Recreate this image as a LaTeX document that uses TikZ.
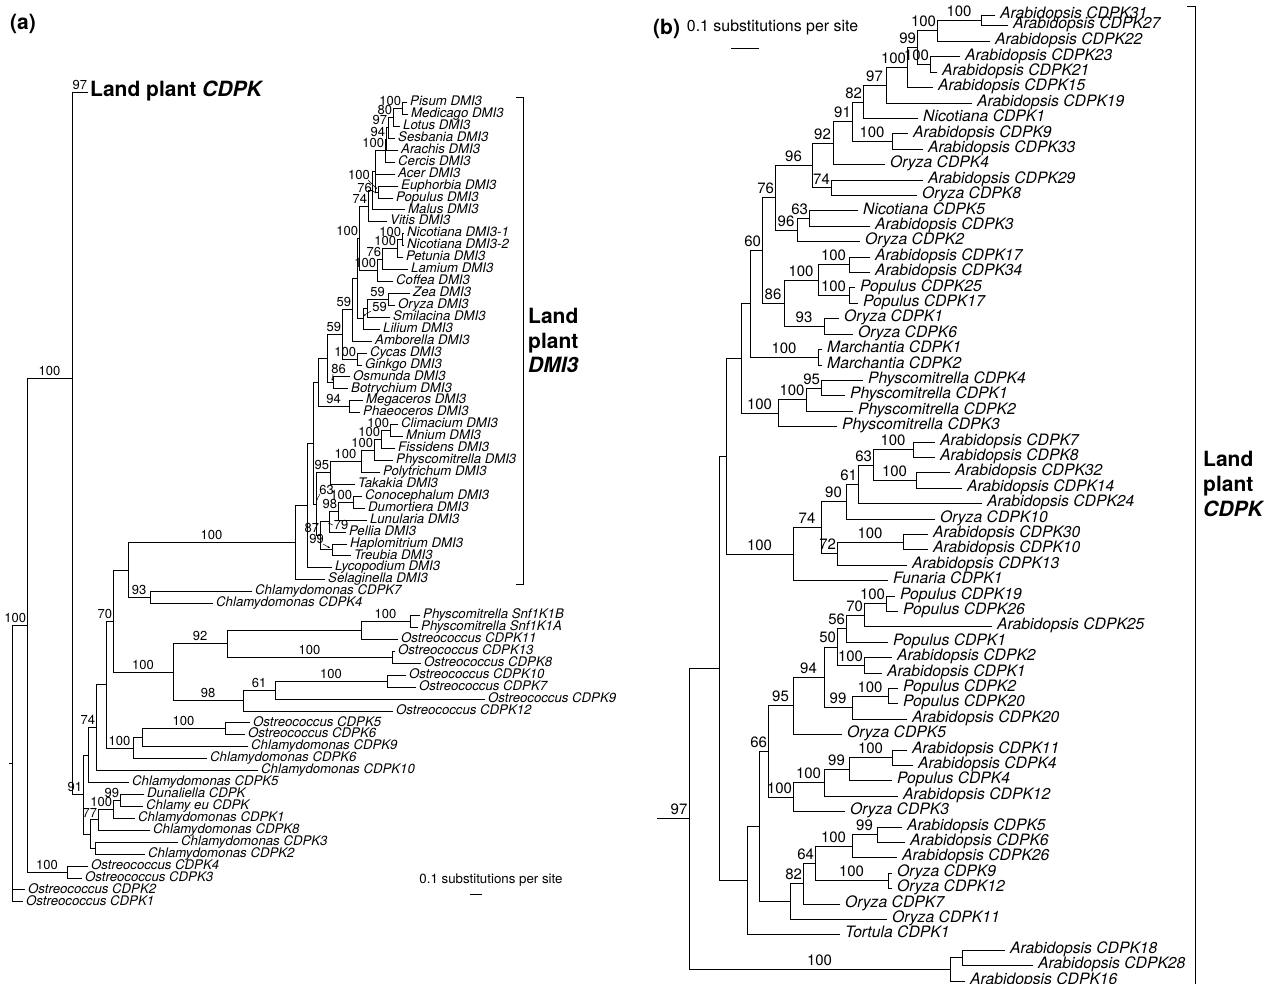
\documentclass[tikz,border=0pt]{standalone}
\usepackage{fontspec}
\setmainfont{TeX Gyre Heros}
\usetikzlibrary{calc,arrows.meta}
\tikzset{
  br/.style={line width=0.8pt, line cap=rect},
  leafr/.style={anchor=base west, inner sep=0pt, xshift=5pt, yshift=-3.2pt, font=\fontsize{15.7}{16}\selectfont\itshape},
  leafl/.style={anchor=base west, inner sep=0pt, xshift=3pt, yshift=-3.2pt, font=\fontsize{13.2}{14}\selectfont\itshape},
  bsr/.style={anchor=south, inner sep=0pt, yshift=3.5pt, font=\fontsize{15}{15}\selectfont},
  bsl/.style={anchor=south, inner sep=0pt, yshift=2.5pt, font=\fontsize{13}{13}\selectfont},
  bsfree/.style={anchor=center, inner sep=0pt, font=\fontsize{13}{13}\selectfont},
  bigt/.style={anchor=base west, inner sep=0pt, font=\fontsize{21}{24}\selectfont\bfseries},
  scl/.style={anchor=center, inner sep=0pt},
  arr/.style={line width=0.5pt, -{Stealth[length=2.5pt,width=2pt]}}
}
\newcommand\leafR[4]{\coordinate (#1) at (#3,{41.5+15.4*(#2-3)});\node[leafr] at (#1) {#4};}
\newcommand\leafRy[4]{\coordinate (#1) at (#3,#2);\node[leafr] at (#1) {#4};}
\newcommand\leafL[4]{\coordinate (#1) at (#3,{102.5+11.93*(#2-1)});\node[leafl] at (#1) {#4};}
\newcommand\inodexy[5]{%
  \coordinate (#1) at (#2,#3);
  \draw[br] (#1 |- #4) -- (#1 |- #5);
  \draw[br] (#1 |- #4) -- (#4);
  \draw[br] (#1 |- #5) -- (#5);
}
\newcommand\inode[4]{%
  \coordinate (tmpmid) at ($(#3)!.5!(#4)$);
  \coordinate (tmpx) at (#2,0);
  \coordinate (#1) at (tmpx |- tmpmid);
  \draw[br] (#1 |- #3) -- (#1 |- #4);
  \draw[br] (#1 |- #3) -- (#3);
  \draw[br] (#1 |- #4) -- (#4);
}
\newcommand\inodeiii[5]{%
  \inode{#1}{#2}{#3}{#5}
  \draw[br] (#1 |- #4) -- (#4);
}
\newcommand\bsR[3]{\path let \p1=(#1 |- #2), \p2=(#2), \n1={ifthenelse(#3>99,25,16.7)} in node[bsr] at ({min((\x1+\x2)/2,\x2-\n1*0.5-1)},\y2) {#3};}
\newcommand\bsL[3]{\path let \p1=(#1 |- #2), \p2=(#2), \n1={ifthenelse(#3>99,21.7,14.5)} in node[bsl] at ({min((\x1+\x2)/2,\x2-\n1*0.5-1)},\y2) {#3};}
\begin{document}
\begin{tikzpicture}[x=1pt,y=-1pt]
\useasboundingbox (0,0) rectangle (1271,984);
\fill[white] (0,0) rectangle (1271,984);

% ================= panel (a) =================
\node[bigt] (ta) at (10,29.5) {(a)};
\leafL{lPis}{1}{407}{Pisum DMI3}
\leafL{lMed}{2}{408}{Medicago DMI3}
\leafL{lLot}{3}{400}{Lotus DMI3}
\leafL{lSes}{4}{395}{Sesbania DMI3}
\leafL{lAra}{5}{398}{Arachis DMI3}
\leafL{lCer}{6}{395}{Cercis DMI3}
\leafL{lAce}{7}{395}{Acer DMI3}
\leafL{lEup}{8}{398}{Euphorbia DMI3}
\leafL{lPop}{9}{393}{Populus DMI3}
\leafL{lMal}{10}{405}{Malus DMI3}
\leafL{lVit}{11}{387}{Vitis DMI3}
\leafL{lNa}{12}{404}{Nicotiana DMI3-1}
\leafL{lNb}{13}{404}{Nicotiana DMI3-2}
\leafL{lPet}{14}{403}{Petunia DMI3}
\leafL{lLam}{15}{408}{Lamium DMI3}
\leafL{lCof}{16}{393}{Coffea DMI3}
\leafL{lZea}{17}{410}{Zea DMI3}
\leafL{lOry}{18}{395}{Oryza DMI3}
\leafL{lSmi}{19}{390}{Smilacina DMI3}
\leafL{lLil}{20}{380}{Lilium DMI3}
\leafL{lAmb}{21}{372}{Amborella DMI3}
\leafL{lCyc}{22}{367}{Cycas DMI3}
\leafL{lGin}{23}{362}{Ginkgo DMI3}
\leafL{lOsm}{24}{350}{Osmunda DMI3}
\leafL{lBot}{25}{348}{Botrychium DMI3}
\leafL{lMeg}{26}{363}{Megaceros DMI3}
\leafL{lPha}{27}{360}{Phaeoceros DMI3}
\leafL{lCli}{28}{398}{Climacium DMI3}
\leafL{lMni}{29}{403}{Mnium DMI3}
\leafL{lFis}{30}{395}{Fissidens DMI3}
\leafL{lPhy}{31}{393}{Physcomitrella DMI3}
\leafL{lPol}{32}{380}{Polytrichum DMI3}
\leafL{lTak}{33}{355}{Takakia DMI3}
\leafL{lCon}{34}{362}{Conocephalum DMI3}
\leafL{lDum}{35}{365}{Dumortiera DMI3}
\leafL{lLun}{36}{367}{Lunularia DMI3}
\leafL{lPel}{37}{346}{Pellia DMI3}
\leafL{lHap}{38}{347}{Haplomitrium DMI3}
\leafL{lTre}{39}{351}{Treubia DMI3}
\leafL{lLyc}{40}{332}{Lycopodium DMI3}
\leafL{lSel}{41}{325}{Selaginella DMI3}
\leafL{lC7}{42}{252}{Chlamydomonas CDPK7}
\leafL{lC4}{43}{213}{Chlamydomonas CDPK4}
\leafL{lSB}{44}{420}{Physcomitrella Snf1K1B}
\leafL{lSA}{45}{418}{Physcomitrella Snf1K1A}
\leafL{lO11}{46}{398}{Ostreococcus CDPK11}
\leafL{lO13}{47}{395}{Ostreococcus CDPK13}
\leafL{lO8}{48}{421}{Ostreococcus CDPK8}
\leafL{lO10}{49}{406}{Ostreococcus CDPK10}
\leafL{lO7}{50}{416}{Ostreococcus CDPK7}
\leafL{lO9}{51}{485}{Ostreococcus CDPK9}
\leafL{lO12}{52}{393}{Ostreococcus CDPK12}
\leafL{lO5}{53}{250}{Ostreococcus CDPK5}
\leafL{lO6}{54}{245}{Ostreococcus CDPK6}
\leafL{lC9}{55}{248}{Chlamydomonas CDPK9}
\leafL{lC6}{56}{207}{Chlamydomonas CDPK6}
\leafL{lC10}{57}{258}{Chlamydomonas CDPK10}
\leafL{lC5}{58}{129}{Chlamydomonas CDPK5}
\leafL{lDun}{59}{144}{Dunaliella CDPK}
\leafL{lCeu}{60}{143}{Chlamy eu CDPK}
\leafL{lC1}{61}{135}{Chlamydomonas CDPK1}
\leafL{lC8}{62}{150}{Chlamydomonas CDPK8}
\leafL{lC3}{63}{178}{Chlamydomonas CDPK3}
\leafL{lC2}{64}{145}{Chlamydomonas CDPK2}
\leafL{lO4}{65}{88}{Ostreococcus CDPK4}
\leafL{lO3}{66}{82}{Ostreococcus CDPK3}
\leafL{lO2}{67}{25}{Ostreococcus CDPK2}
\leafL{lO1}{68}{23}{Ostreococcus CDPK1}

\inode{L1}{402}{lPis}{lMed}
\inode{L2}{393}{L1}{lLot} \bsL{L2}{L1}{100}
\inode{L3}{388}{L2}{lSes} \bsL{L3}{L2}{80}
\inode{L4}{386}{L3}{lAra} \bsL{L4}{L3}{97}
\inode{L5}{385}{L4}{lCer} \bsL{L5}{L4}{94}
\inode{EP}{378}{lEup}{lPop}
\inodeiii{R1}{375}{L5}{lAce}{EP} \bsL{R1}{L5}{100}
\inode{R2}{372}{R1}{lMal}
\inode{R3}{368}{R2}{lVit}
\inode{As1}{402}{lNa}{lNb}
\inode{As2}{397}{As1}{lPet} \bsL{As2}{As1}{100}
\inode{As3}{382}{As2}{lLam} \bsL{As3}{As2}{100}
\inode{As4}{377}{As3}{lCof} \bsL{As4}{As3}{76}
\inode{Eu}{359}{R3}{As4} \bsL{Eu}{R3}{74} \bsL{Eu}{As4}{100}
\inode{M1}{388}{lZea}{lOry}
\inode{M2}{367}{M1}{lSmi} \bsL{M2}{M1}{59}
\inode{M3}{363}{M2}{lLil}
\inode{Core}{357}{Eu}{M3} \bsL{Core}{Eu}{100}
\inode{Ang}{352}{Core}{lAmb}
\inode{Gym}{357}{lCyc}{lGin}
\inode{Seed}{342}{Ang}{Gym} \bsL{Seed}{Ang}{59} \bsL{Seed}{Gym}{100}
\inode{Fern}{333}{lOsm}{lBot}
\inode{Vasc}{327}{Seed}{Fern} \bsL{Vasc}{Seed}{59}
\inode{Horn}{349}{lMeg}{lPha}
\inode{VH}{318}{Vasc}{Horn} \bsL{VH}{Horn}{94}
\inode{Mo1}{390}{lCli}{lMni}
\inode{Mo2}{381}{Mo1}{lFis} \bsL{Mo2}{Mo1}{100}
\inode{Mo3}{374}{Mo2}{lPhy} \bsL{Mo3}{Mo2}{100}
\inode{Mo4}{361}{Mo3}{lPol} \bsL{Mo4}{Mo3}{100}
\inode{Mo5}{330}{Mo4}{lTak} \bsL{Mo5}{Mo4}{100}
\inode{Lv1}{353}{lCon}{lDum}
\inode{Lv2}{338}{Lv1}{lLun} \bsL{Lv2}{Lv1}{100}
\inode{Lv3}{329}{Lv2}{lPel} \bsL{Lv3}{Lv2}{98}
\inode{Lv4}{332}{lHap}{lTre}
\inode{Lv5}{320}{Lv3}{Lv4}
\inode{BM}{316}{Mo5}{Lv5} \bsL{BM}{Mo5}{95} \bsL{BM}{Lv5}{87}
\inode{N313}{313}{VH}{BM}
\inode{N307}{307}{N313}{lLyc}
\inode{DMI}{295}{N307}{lSel}
\inode{C74}{150}{lC7}{lC4}
\inode{X128}{128}{DMI}{C74} \bsL{X128}{DMI}{100} \bsL{X128}{C74}{93}
\inode{Snf}{410}{lSB}{lSA}
\inode{N361}{361}{Snf}{lO11} \bsL{N361}{Snf}{100}
\inode{O138}{392}{lO13}{lO8}
\inode{N92}{227}{N361}{O138} \bsL{N92}{O138}{100}
\inode{O107}{387}{lO10}{lO7}
\inode{N61}{275}{O107}{lO9} \bsL{N61}{O107}{100}
\inode{N98}{243}{N61}{lO12} \bsL{N98}{N61}{61}
\inode{N173}{173}{N92}{N98} \bsL{N173}{N92}{92} \bsL{N173}{N98}{98}
\inode{N70}{113}{X128}{N173} \bsL{N70}{N173}{100}
\inode{O56}{225}{lO5}{lO6}
\inode{N142}{142}{O56}{lC9} \bsL{N142}{O56}{100}
\inode{N133}{133}{N142}{lC6}
\inode{N106}{106}{N70}{N133} \bsL{N106}{N70}{70} \bsL{N106}{N133}{100}
\inode{N96}{96}{N106}{lC10}
\inode{N88}{88}{N96}{lC5} \bsL{N88}{N96}{74}
\inode{N99}{120}{lDun}{lCeu}
\inode{N113}{113}{N99}{lC1} \bsL{N113}{N99}{99}
\inode{N77}{98}{N113}{lC8} \bsL{N77}{N113}{100}
\inode{C32}{95}{lC3}{lC2}
\inode{N90}{90}{N77}{C32} \bsL{N90}{N77}{77}
\inode{N83}{83}{N88}{N90}
\coordinate (lCD) at (88,92);
\node[bigt] (tCD) at (90,96.5) {Land plant \textit{CDPK}};
\inodexy{X72}{72}{378}{lCD}{N83} \bsL{X72}{lCD}{97} \bsL{X72}{N83}{91}
\inode{O43}{67}{lO4}{lO3}
\inode{N27}{27}{X72}{O43} \bsL{N27}{X72}{100} \bsL{N27}{O43}{100}
\inodeiii{Lroot}{12}{N27}{lO2}{lO1} \bsL{Lroot}{N27}{100}
\coordinate (lStub) at (9,0 |- Lroot);
\draw[br] (lStub) -- (Lroot);

% labels with small arrows
\node[bsfree] (aEP) at (359,175) {100};
\draw[arr] (368,180) -- (377,189);
\node[bsfree] (aR1) at (364.5,188) {76};
\draw[arr] (372,191) -- (377,193);
\node[bsfree] (aM2) at (379.5,307) {59};
\draw[arr] (371,311) -- (363,316);
\node[bsfree] (aFern) at (338.5,369) {86};
\draw[arr] (333,374) -- (332,381);
\node[bsfree] (aLv3) at (341,525) {79};
\draw[arr] (333,525) -- (328,523);
\node[bsfree] (aLv4) at (316.5,539) {99};
\draw[arr] (323,544) -- (330,548);
\node[bsfree] (aBM) at (326.5,490) {63};
\draw[arr] (320,494) -- (316,501);

% bracket and clade label
\draw[br] (516,97) -- (523,97) -- (523,584) -- (516,584);
\node[bigt] (tD1) at (528,323.5) {Land};
\node[bigt] (tD2) at (528,348) {plant};
\node[bigt] (tD3) at (528,372.5) {\itshape DMI3};

% scale bar (a)
\node[scl, font=\fontsize{13.3}{14}\selectfont] (sa) at (491,880) {0.1 substitutions per site};
\draw[br] (470,894) -- (482,894);

% ================= panel (b) =================
\node[bigt] (tb) at (653,34.5) {(b)};
\node[scl, font=\fontsize{15.9}{16}\selectfont] (sb) at (772.5,27) {0.1 substitutions per site};
\draw[br] (731,48) -- (759,48);

\leafRy{rA31}{15}{995}{Arabidopsis CDPK31}
\leafRy{rA27}{25}{1008}{Arabidopsis CDPK27}
\leafR{rA22}{3}{990}{Arabidopsis CDPK22}
\leafR{rA23}{4}{960}{Arabidopsis CDPK23}
\leafR{rA21}{5}{937}{Arabidopsis CDPK21}
\leafR{rA15}{6}{933}{Arabidopsis CDPK15}
\leafR{rA19}{7}{972}{Arabidopsis CDPK19}
\leafR{rN1}{8}{918}{Nicotiana CDPK1}
\leafR{rA9}{9}{908}{Arabidopsis CDPK9}
\leafR{rA33}{10}{923}{Arabidopsis CDPK33}
\leafR{rO4}{11}{885}{Oryza CDPK4}
\leafR{rA29}{12}{923}{Arabidopsis CDPK29}
\leafR{rO8}{13}{917}{Oryza CDPK8}
\leafR{rN5}{14}{858}{Nicotiana CDPK5}
\leafR{rA3}{15}{870}{Arabidopsis CDPK3}
\leafR{rO2}{16}{860}{Oryza CDPK2}
\leafR{rA17}{17}{870}{Arabidopsis CDPK17}
\leafR{rA34}{18}{870}{Arabidopsis CDPK34}
\leafR{rP25}{19}{855}{Populus CDPK25}
\leafR{rP17}{20}{858}{Populus CDPK17}
\leafR{rO1}{21}{839}{Oryza CDPK1}
\leafR{rO6}{22}{853}{Oryza CDPK6}
\leafR{rM1}{23}{822}{Marchantia CDPK1}
\leafR{rM2}{24}{822}{Marchantia CDPK2}
\leafR{rPh4}{25}{863}{Physcomitrella CDPK4}
\leafR{rPh1}{26}{845}{Physcomitrella CDPK1}
\leafR{rPh2}{27}{853}{Physcomitrella CDPK2}
\leafR{rPh3}{28}{837}{Physcomitrella CDPK3}
\leafR{rA7}{29}{935}{Arabidopsis CDPK7}
\leafR{rA8}{30}{935}{Arabidopsis CDPK8}
\leafR{rA32}{31}{950}{Arabidopsis CDPK32}
\leafR{rA14}{32}{962}{Arabidopsis CDPK14}
\leafR{rA24}{33}{982}{Arabidopsis CDPK24}
\leafR{rO10}{34}{935}{Oryza CDPK10}
\leafR{rA30}{35}{928}{Arabidopsis CDPK30}
\leafR{rA10}{36}{928}{Arabidopsis CDPK10}
\leafR{rA13}{37}{907}{Arabidopsis CDPK13}
\leafR{rF1}{38}{888}{Funaria CDPK1}
\leafR{rP19}{39}{895}{Populus CDPK19}
\leafR{rP26}{40}{898}{Populus CDPK26}
\leafR{rA25}{41}{992}{Arabidopsis CDPK25}
\leafR{rP1}{42}{888}{Populus CDPK1}
\leafR{rA2}{43}{892}{Arabidopsis CDPK2}
\leafR{rA1}{44}{882}{Arabidopsis CDPK1}
\leafR{rP2}{45}{898}{Populus CDPK2}
\leafR{rP20}{46}{898}{Populus CDPK20}
\leafR{rA20}{47}{907}{Arabidopsis CDPK20}
\leafR{rO5}{48}{842}{Oryza CDPK5}
\leafR{rA11}{49}{907}{Arabidopsis CDPK11}
\leafR{rA4}{50}{913}{Arabidopsis CDPK4}
\leafR{rP4}{51}{892}{Populus CDPK4}
\leafR{rA12}{52}{898}{Arabidopsis CDPK12}
\leafR{rO3}{53}{845}{Oryza CDPK3}
\leafR{rA5}{54}{902}{Arabidopsis CDPK5}
\leafR{rA6}{55}{905}{Arabidopsis CDPK6}
\leafR{rA26}{56}{897}{Arabidopsis CDPK26}
\leafR{rO9}{57}{892}{Oryza CDPK9}
\leafR{rO12}{58}{892}{Oryza CDPK12}
\leafR{rO7}{59}{840}{Oryza CDPK7}
\leafR{rO11}{60}{887}{Oryza CDPK11}
\leafR{rT1}{61}{840}{Tortula CDPK1}
\leafR{rA18}{62}{1005}{Arabidopsis CDPK18}
\leafR{rA28}{63}{1033}{Arabidopsis CDPK28}
\leafR{rA16}{64}{965}{Arabidopsis CDPK16}

\inode{rRa}{981}{rA31}{rA27}
\inode{rRb}{937}{rRa}{rA22} \bsR{rRb}{rRa}{100}
\inode{rRc}{930}{rA23}{rA21}
\inode{rRd}{917}{rRb}{rRc} \bsR{rRd}{rRb}{100} \bsR{rRd}{rRc}{100}
\inode{rRe}{907}{rRd}{rA15} \bsR{rRe}{rRd}{99}
\inode{rRf}{886}{rRe}{rA19} \bsR{rRf}{rRe}{100}
\inode{rRg}{863}{rRf}{rN1} \bsR{rRg}{rRf}{97}
\inode{rRh}{892}{rA9}{rA33}
\inode{rRi}{852}{rRg}{rRh} \bsR{rRi}{rRg}{82} \bsR{rRi}{rRh}{100}
\inode{rRj}{833}{rRi}{rO4} \bsR{rRj}{rRi}{91}
\inode{rRk}{831}{rA29}{rO8}
\inode{rRl}{812}{rRj}{rRk} \bsR{rRl}{rRj}{92} \bsR{rRl}{rRk}{74}
\inode{rRm}{809}{rN5}{rA3}
\inode{rRn}{797}{rRm}{rO2} \bsR{rRn}{rRm}{63}
\inode{rRo}{775}{rRl}{rRn} \bsR{rRo}{rRl}{96} \bsR{rRo}{rRn}{96}
\inode{rRp}{849}{rA17}{rA34}
\inode{rRq}{849}{rP25}{rP17}
\inode{rRr}{818}{rRp}{rRq} \bsR{rRr}{rRp}{100} \bsR{rRr}{rRq}{100}
\inode{rRs}{824}{rO1}{rO6}
\inode{rRt}{784}{rRr}{rRs} \bsR{rRt}{rRr}{100} \bsR{rRt}{rRs}{93}
\inode{rRu}{762}{rRo}{rRt} \bsR{rRu}{rRo}{76} \bsR{rRu}{rRt}{86}
\inode{rRv}{818}{rM1}{rM2}
\inode{rRw}{750}{rRu}{rRv} \bsR{rRw}{rRu}{60} \bsR{rRw}{rRv}{100}
\inode{rRx}{821}{rPh4}{rPh1}
\inode{rRy}{806}{rRx}{rPh2} \bsR{rRy}{rRx}{95}
\inode{rRz}{778}{rRy}{rPh3} \bsR{rRz}{rRy}{100}
\inode{rRA}{741}{rRw}{rRz} \bsR{rRA}{rRz}{100}
\inode{rRB}{913}{rA7}{rA8}
\inode{rRC}{916}{rA32}{rA14}
\inode{rRD}{873}{rRB}{rRC} \bsR{rRD}{rRB}{100} \bsR{rRD}{rRC}{100}
\inode{rRE}{858}{rRD}{rA24} \bsR{rRE}{rRD}{63}
\inode{rRF}{846}{rRE}{rO10} \bsR{rRF}{rRE}{61}
\inode{rRG}{903}{rA30}{rA10}
\inode{rRH}{837}{rRG}{rA13} \bsR{rRH}{rRG}{100}
\inode{rRI}{821}{rRF}{rRH} \bsR{rRI}{rRF}{90} \bsR{rRI}{rRH}{72}
\inode{rRJ}{793}{rRI}{rF1} \bsR{rRJ}{rRI}{74}
\inode{rRK}{726}{rRA}{rRJ} \bsR{rRK}{rRJ}{100}
\inode{rRL}{886}{rP19}{rP26}
\inode{rRM}{864}{rRL}{rA25} \bsR{rRM}{rRL}{100}
\inode{rRN}{846}{rRM}{rP1} \bsR{rRN}{rRM}{70}
\inode{rRO}{864}{rA2}{rA1}
\inode{rRP}{837}{rRN}{rRO} \bsR{rRP}{rRN}{56} \bsR{rRP}{rRO}{100}
\inode{rRQ}{888}{rP2}{rP20}
\inode{rRR}{852}{rRQ}{rA20} \bsR{rRR}{rRQ}{100}
\inode{rRS}{824}{rRP}{rRR} \bsR{rRS}{rRP}{50} \bsR{rRS}{rRR}{99}
\inode{rRT}{793}{rRS}{rO5} \bsR{rRT}{rRS}{94}
\inode{rRU}{892}{rA11}{rA4}
\inode{rRV}{849}{rRU}{rP4} \bsR{rRV}{rRU}{100}
\inode{rRW}{824}{rRV}{rA12} \bsR{rRW}{rRV}{99}
\inode{rRX}{793}{rRW}{rO3} \bsR{rRX}{rRW}{100}
\inode{rRY}{768}{rRT}{rRX} \bsR{rRY}{rRT}{95} \bsR{rRY}{rRX}{100}
\inode{rRZ}{877}{rA5}{rA6}
\inode{rR0}{852}{rRZ}{rA26} \bsR{rR0}{rRZ}{99}
\inode{rR1}{888}{rO9}{rO12}
\inode{rR2}{815}{rR0}{rR1} \bsR{rR2}{rR0}{100} \bsR{rR2}{rR1}{100}
\inode{rR3}{803}{rR2}{rO7} \bsR{rR3}{rR2}{64}
\inode{rR4}{790}{rR3}{rO11} \bsR{rR4}{rR3}{82}
\inode{rR5}{759}{rRY}{rR4} \bsR{rR5}{rRY}{66}
\inode{rR6}{747}{rR5}{rT1}
\inode{rR7}{719}{rRK}{rR6}
\inode{rR8}{962}{rA18}{rA28}
\inode{rR9}{950}{rR8}{rA16}
\inode{rRoot}{689}{rR7}{rR9} \bsR{rRoot}{rR9}{100}
\coordinate (rStub) at (657,0 |- rRoot);
\draw[br] (rStub) -- (rRoot);
\path let \p1=(rRoot) in node[bsr] (l97) at (679,\y1) {97};

% bracket and clade label
\draw[br] (1187,6) -- (1195,6) -- (1195,984);
\node[bigt] (tC1) at (1203,466.5) {Land};
\node[bigt] (tC2) at (1203,491) {plant};
\node[bigt] (tC3) at (1203,516.5) {\itshape CDPK};
\end{tikzpicture}
\end{document}
